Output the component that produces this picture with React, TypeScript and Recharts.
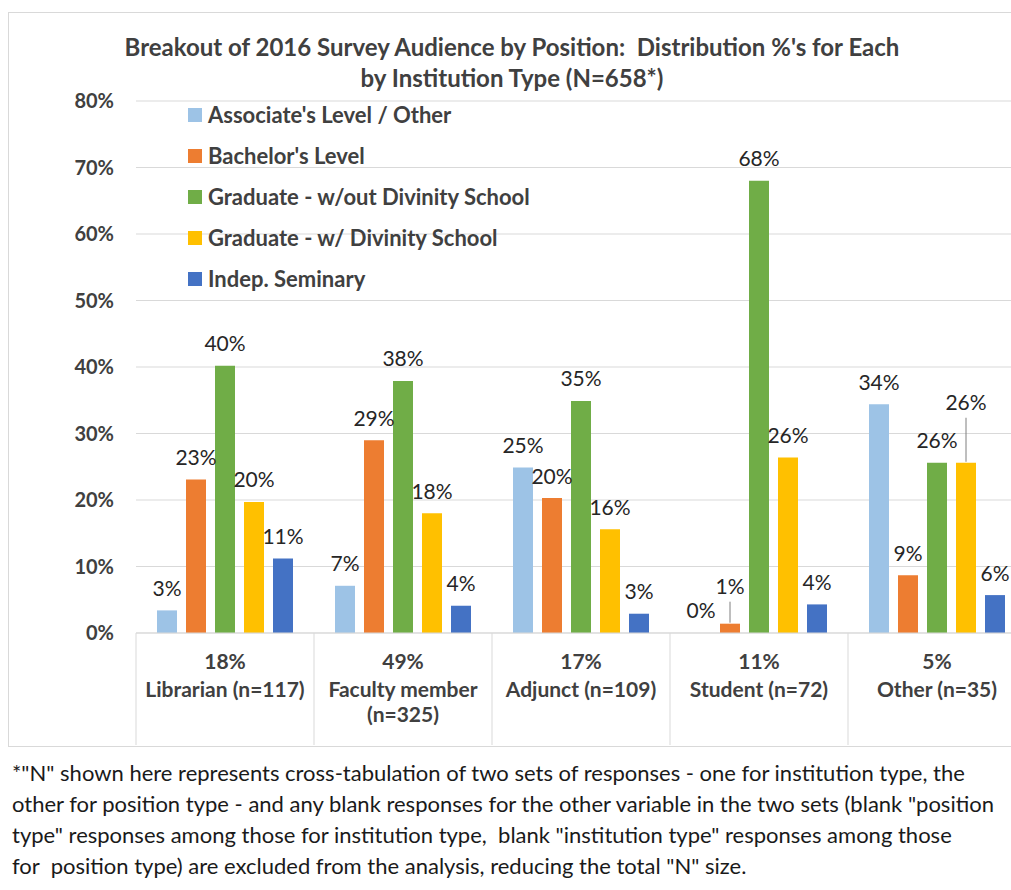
import React from 'react';
import { BarChart, Bar, XAxis, YAxis, CartesianGrid, LabelList } from 'recharts';

// categories (positions) and their share of the whole audience; '\n' marks the line break Excel made
const categories = ['Librarian (n=117)', 'Faculty member\n(n=325)', 'Adjunct (n=109)', 'Student (n=72)', 'Other (n=35)'];
const categoryShare = ['18%', '49%', '17%', '11%', '5%'];

// series values, % of each position by institution type
const associate = [3.4, 7.1, 24.9, 0, 34.4];
const bachelor = [23.1, 29.0, 20.3, 1.4, 8.7];
const gradNoDiv = [40.2, 37.9, 34.9, 68.0, 25.6];
const gradDiv = [19.7, 18.0, 15.6, 26.4, 25.6];
const seminary = [11.2, 4.1, 2.9, 4.3, 5.7];

const yTicks = [0, 10, 20, 30, 40, 50, 60, 70, 80];

const SERIES = [
  { key: 'associate', name: "Associate's Level / Other", color: '#9DC3E6', values: associate },
  { key: 'bachelor', name: "Bachelor's Level", color: '#ED7D31', values: bachelor },
  { key: 'gradNoDiv', name: 'Graduate - w/out Divinity School', color: '#70AD47', values: gradNoDiv },
  { key: 'gradDiv', name: 'Graduate - w/ Divinity School', color: '#FFC000', values: gradDiv },
  { key: 'seminary', name: 'Indep. Seminary', color: '#4472C4', values: seminary },
];

// labels that Excel had dragged up, with a leader line back to the bar
const LABEL_LIFT: { [k: string]: number } = { 'bachelor-3': 15, 'gradDiv-4': 38 };

const FONT = 'Lato, "Open Sans", sans-serif';
const TEXT = '#404040';
const GRID = '#d9d9d9';
const BAND = 178; // category width in px (plot width / 5)

const data = categories.map((c, i) => {
  const row: any = { name: c, share: categoryShare[i] };
  SERIES.forEach(s => { row[s.key] = s.values[i]; });
  return row;
});

const makeLabel = (seriesKey: string) => (props: any) => {
  const { x, y, width, value, index } = props;
  const lift = LABEL_LIFT[`${seriesKey}-${index}`] || 0;
  const cx = x + width / 2;
  const ty = y - 23 - lift;
  return (
    <g>
      {lift > 0 && <line x1={cx} x2={cx} y1={ty + 16} y2={y - 1} stroke="#7f7f7f" strokeWidth={1} />}
      <text x={cx} y={ty} textAnchor="middle" dominantBaseline="central" fontFamily={FONT} fontSize={21} fill="#262626">
        {Math.round(value)}%
      </text>
    </g>
  );
};

const CategoryTick = (props: any) => {
  const { x, y, payload, index } = props;
  const lines = String(payload.value).split('\n');
  return (
    <g>
      <line x1={x - BAND / 2} x2={x - BAND / 2} y1={y} y2={y + 112} stroke={GRID} />
      {index === categories.length - 1 && <line x1={x + BAND / 2} x2={x + BAND / 2} y1={y} y2={y + 112} stroke={GRID} />}
      <text x={x} y={y + 27} textAnchor="middle" dominantBaseline="central" fontFamily={FONT} fontWeight="bold" fontSize={21} fill={TEXT}>
        {categoryShare[index]}
      </text>
      <text textAnchor="middle" dominantBaseline="central" fontFamily={FONT} fontWeight="bold" fontSize={21} fill={TEXT}>
        {lines.map((l, i) => (
          <tspan key={i} x={x} y={y + 55 + i * 25}>{l}</tspan>
        ))}
      </text>
    </g>
  );
};

export default function App() {
  return (
    <div style={{ position: 'absolute', left: 0, top: 0, width: 1011, height: 890, overflow: 'hidden', background: '#fff' }}>
      <div style={{ position: 'absolute', left: 8, top: 12, width: 1100, height: 733, border: `1px solid ${GRID}` }} />
      <div style={{ position: 'absolute', left: 0, top: 0 }}>
        <BarChart width={1040} height={750} data={data} barSize={20} barGap={9}
          margin={{ top: 101, right: 14, bottom: 5, left: 0 }}>
          <CartesianGrid vertical={false} stroke={GRID} />
          <XAxis dataKey="name" height={112} interval={0} tickSize={0} tickMargin={0}
            axisLine={{ stroke: GRID }} tickLine={false} tick={<CategoryTick />} />
          <YAxis domain={[0, 80]} ticks={yTicks} width={136} axisLine={false} tickLine={false}
            tickSize={0} tickMargin={22} tickFormatter={(v: number) => `${v}%`}
            tick={{ fontFamily: FONT, fontWeight: 'bold', fontSize: 20, fill: TEXT }} />
          {SERIES.map(s => (
            <Bar key={s.key} dataKey={s.key} name={s.name} fill={s.color} minPointSize={0.01} isAnimationActive={false}>
              <LabelList dataKey={s.key} content={makeLabel(s.key)} />
            </Bar>
          ))}
        </BarChart>
      </div>

      <div style={{ position: 'absolute', left: 0, width: 1024, top: 31, textAlign: 'center', fontFamily: FONT, fontWeight: 'bold', fontSize: 24, color: TEXT, lineHeight: '31px' }}>
        <div>Breakout of 2016 Survey Audience by Position:&nbsp; Distribution %'s for Each</div>
        <div>by Institution Type (N=658*)</div>
      </div>

      <div style={{ position: 'absolute', left: 188, top: 94, fontFamily: FONT, fontWeight: 'bold', fontSize: 22, color: TEXT }}>
        {SERIES.map(s => (
          <div key={s.key} style={{ display: 'flex', alignItems: 'center', height: 41 }}>
            <span style={{ width: 14, height: 14, background: s.color, marginRight: 6, display: 'inline-block' }} />
            <span>{s.name}</span>
          </div>
        ))}
      </div>

      <div style={{ position: 'absolute', left: 12, top: 757, fontFamily: FONT, fontSize: 22, color: '#1a1a1a', lineHeight: '31px', whiteSpace: 'nowrap' }}>
        <div>*"N" shown here represents cross-tabulation of two sets of responses - one for institution type, the</div>
        <div>other for position type - and any blank responses for the other variable in the two sets (blank "position</div>
        <div>type" responses among those for institution type,&nbsp; blank "institution type" responses among those</div>
        <div>for&nbsp; position type) are excluded from the analysis, reducing the total "N" size.</div>
      </div>
    </div>
  );
}
